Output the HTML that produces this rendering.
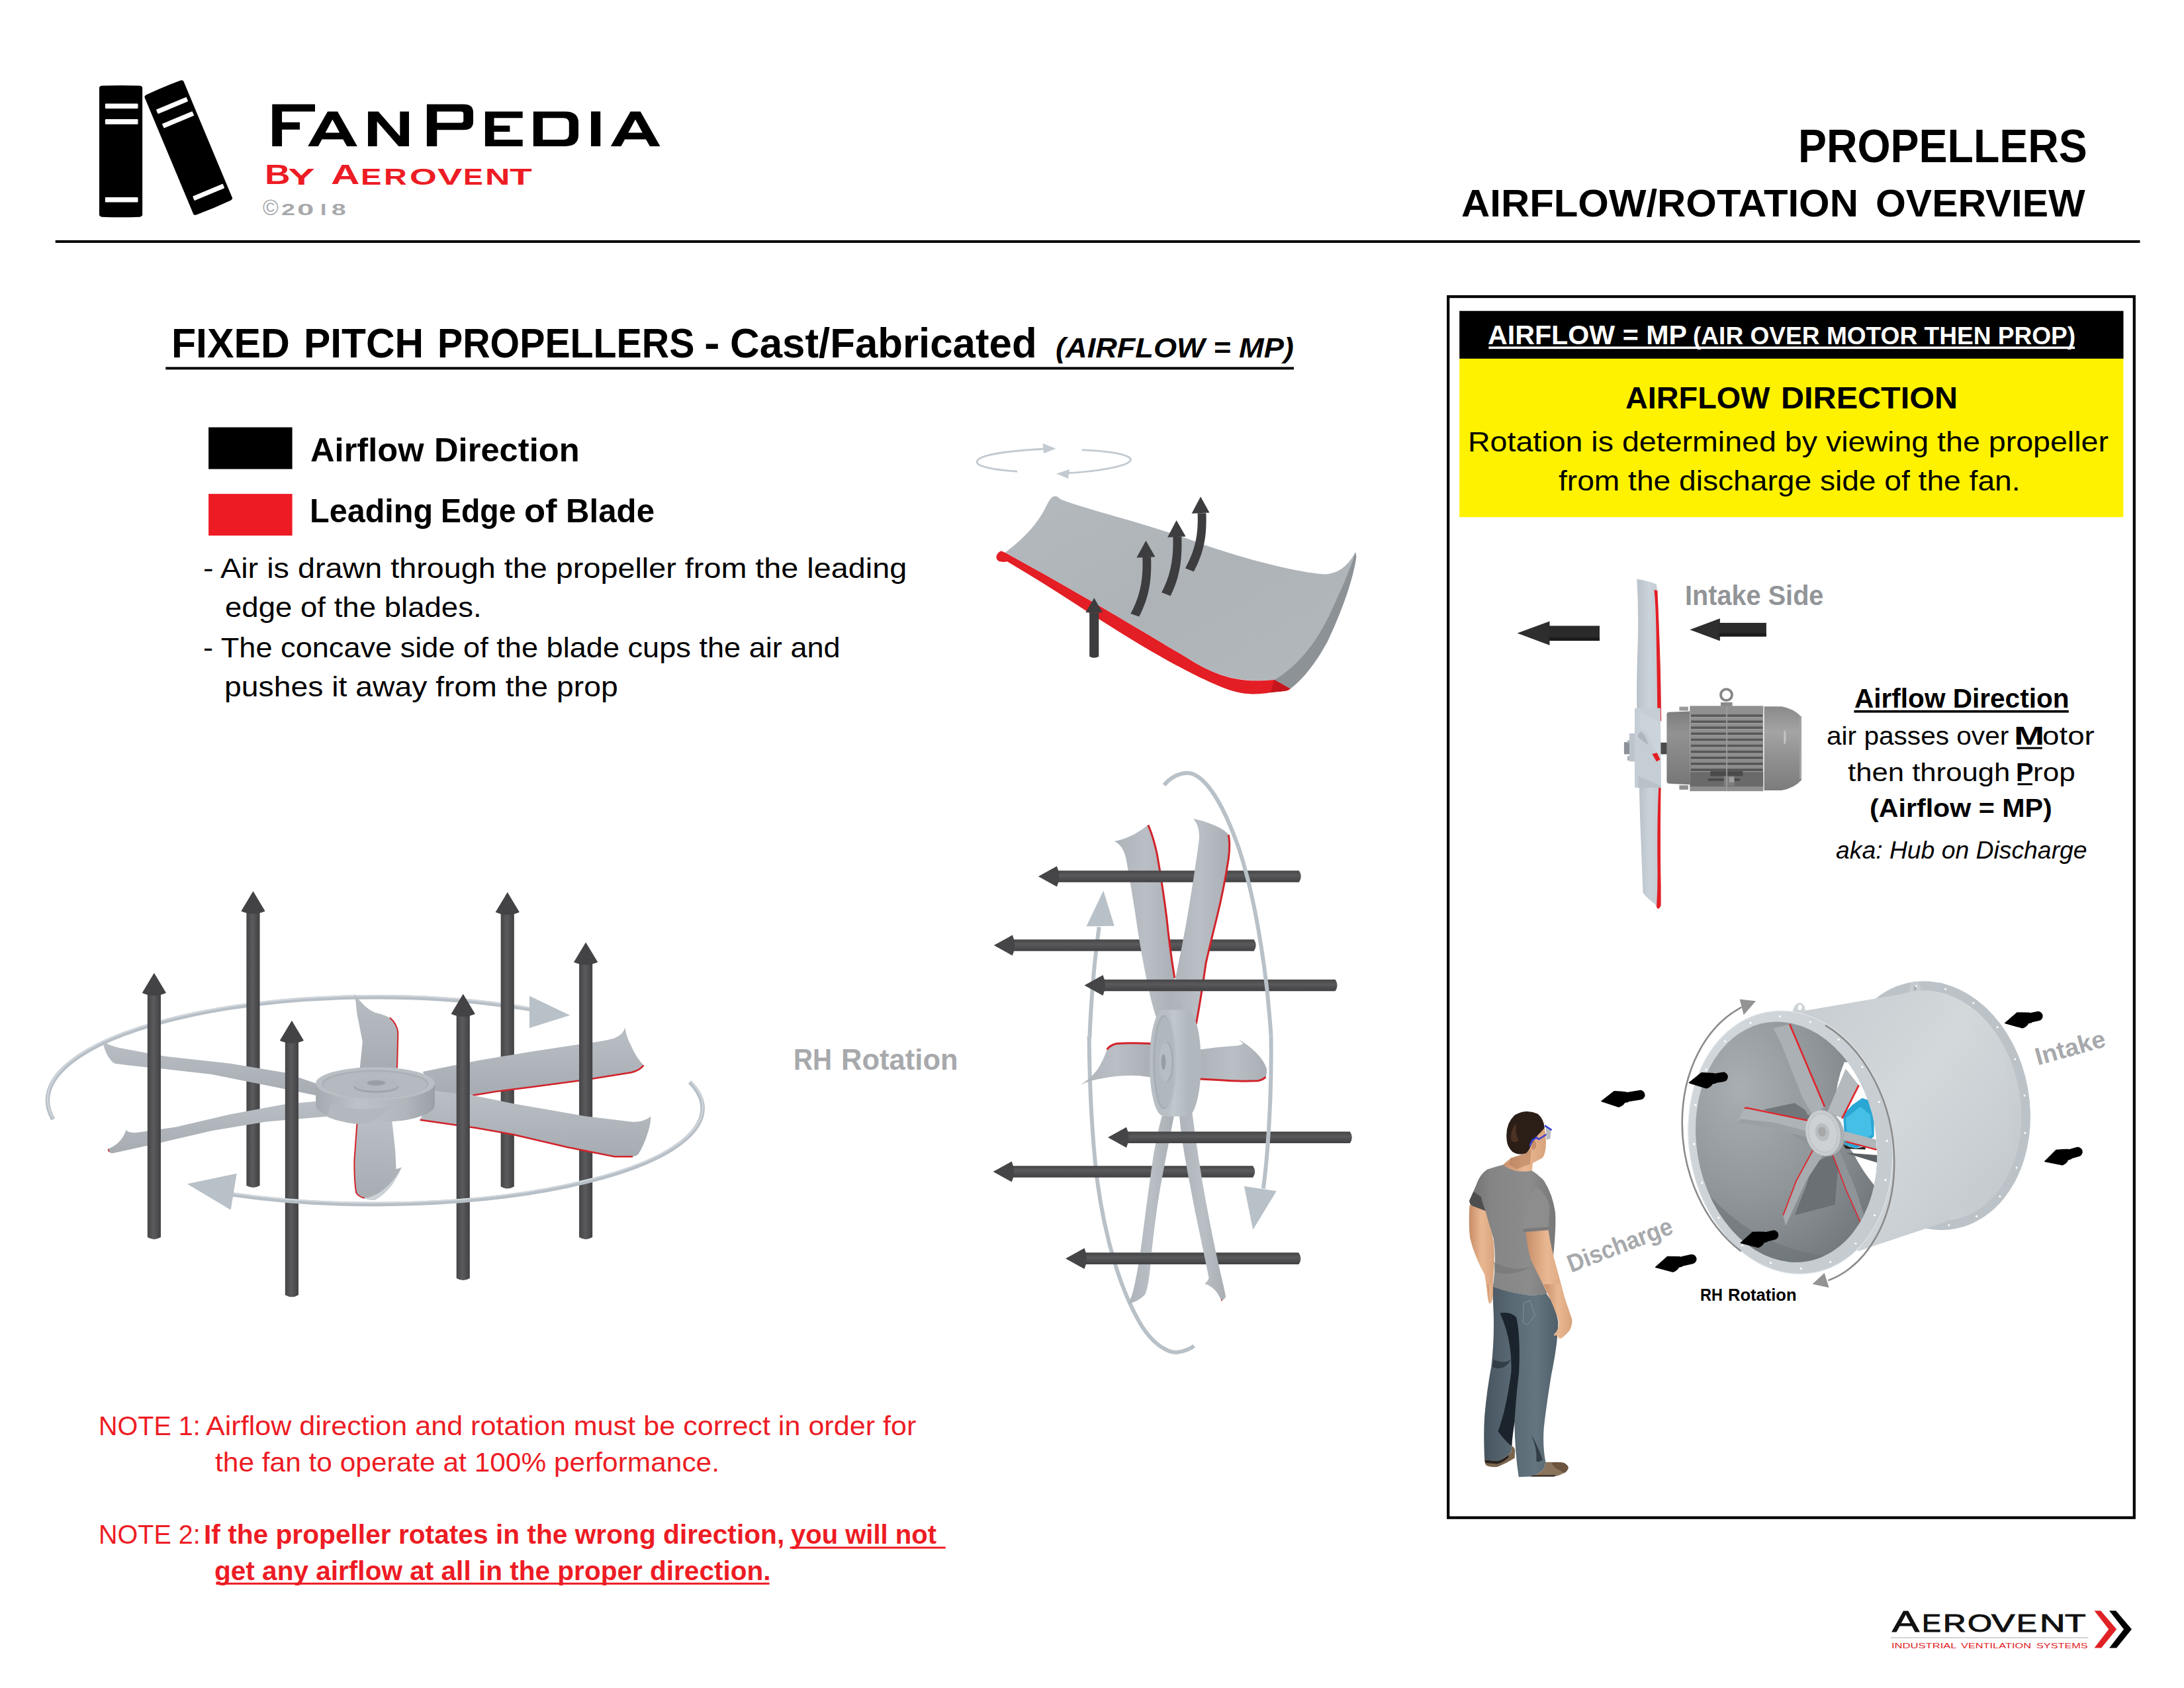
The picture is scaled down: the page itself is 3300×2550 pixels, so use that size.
<!DOCTYPE html>
<html><head><meta charset="utf-8"><title>FanPedia - Propellers Airflow/Rotation Overview</title>
<style>
html,body{margin:0;padding:0;background:#fff}
body{width:3300px;height:2550px;position:relative;overflow:hidden;font-family:"Liberation Sans",sans-serif}
.t{position:absolute;white-space:pre;line-height:1}
svg.art{position:absolute;left:0;top:0}
</style></head><body>
<svg class="art" width="3300" height="2550" viewBox="0 0 3300 2550">
<!-- header rule -->
<rect x="83.7" y="362.9" width="3149.8" height="4" fill="#000"/>
<!-- heading underline -->
<rect x="250.3" y="554.4" width="1704.7" height="3.9" fill="#000"/>
<!-- legend -->
<rect x="315.1" y="645.5" width="126.5" height="63.1" fill="#000"/>
<rect x="315.1" y="746.1" width="126.5" height="63" fill="#ed1c24"/>
<!-- panel -->
<rect x="2188.2" y="448.1" width="1036.6" height="1844.6" fill="none" stroke="#000" stroke-width="4.2"/>
<rect x="2205.2" y="469.7" width="1003.3" height="72.2" fill="#000"/>
<rect x="2205.2" y="541.9" width="1003.2" height="239.3" fill="#fff200"/>
<rect x="2249.4" y="523.5" width="885.7" height="3.6" fill="#fff"/>
<!-- underlines -->
<rect x="2801.4" y="1072.9" width="324.4" height="3.7" fill="#000"/>
<rect x="3047.4" y="1128.6" width="38.3" height="3" fill="#000"/>
<rect x="3048.6" y="1183.2" width="22.3" height="3" fill="#000"/>
<rect x="1193.6" y="2336.5" width="235.1" height="3" fill="#ed1c24"/>
<rect x="326.3" y="2390.8" width="836.3" height="3" fill="#ed1c24"/>

<!-- books logo -->
<g transform="translate(130,100) scale(0.14810)">
  <path d="M135,222 Q135,205 160,200 Q355,192 550,200 Q575,205 575,222 V1515 Q575,1532 550,1537 Q355,1545 160,1537 Q135,1532 135,1515 Z" fill="#000"/>
  <rect x="195" y="382" width="335" height="50" rx="7" fill="#fff"/>
  <rect x="195" y="541" width="335" height="51" rx="7" fill="#fff"/>
  <rect x="195" y="1337" width="335" height="51" rx="7" fill="#fff"/>
  <g transform="translate(590,300) rotate(-22.7)">
    <path d="M0,22 Q0,5 25,2 Q215,-6 405,2 Q430,5 430,22 V1308 Q430,1325 405,1328 Q215,1336 25,1328 Q0,1325 0,1308 Z" fill="#000"/>
    <rect x="60" y="180" width="334" height="48" rx="7" fill="#fff"/>
    <rect x="60" y="338" width="334" height="48" rx="7" fill="#fff"/>
    <rect x="62" y="1140" width="334" height="48" rx="7" fill="#fff"/>
  </g>
</g>
<!-- FANPEDIA wordmark -->
<g transform="translate(390,140) scale(0.28388)" fill="#000" fill-rule="evenodd">
  <path d="M75,62 H303 V100 H127 V158 H222 V196 H127 V285 H75 Z"/>
  <path d="M265,285 L370,100 H423 L528,285 H473 L452,248 H340 L320,285 Z M358,213 H434 L396,143 Z"/>
  <path d="M585,285 V100 H640 L755,232 V100 H803 V285 H748 L633,153 V285 Z"/>
  <path d="M898,62 H1095 Q1145,62 1145,105 V155 Q1145,198 1095,198 H952 V285 H898 Z M952,100 V160 H1080 Q1093,160 1093,148 V112 Q1093,100 1080,100 Z"/>
  <path d="M1208,100 H1408 V135 H1256 V175 H1340 V208 H1256 V250 H1408 V285 H1208 Z"/>
  <path d="M1465,100 H1635 Q1705,100 1705,160 V225 Q1705,285 1635,285 H1465 Z M1515,135 V250 H1625 Q1655,250 1655,222 V163 Q1655,135 1625,135 Z"/>
  <path d="M1772,100 H1822 V285 H1772 Z"/>
  <path transform="translate(1612,0)" d="M265,285 L370,100 H423 L528,285 H473 L452,248 H340 L320,285 Z M358,213 H434 L396,143 Z"/>
</g>

<!-- single blade illustration -->
<defs>
  <linearGradient id="bladeG" x1="0" y1="0" x2="1" y2="1">
    <stop offset="0" stop-color="#b4b9be"/><stop offset="0.5" stop-color="#aeb3b8"/><stop offset="1" stop-color="#b3b8bd"/>
  </linearGradient>
</defs>
<g transform="translate(1400,620) scale(0.32051)">
  <!-- rotation arrows -->
  <g fill="none" stroke="#c3cad1" stroke-width="9">
    <path d="M428,288 C300,278 232,262 238,240 C246,210 390,190 560,181"/>
    <path d="M732,186 C880,192 968,212 962,234 C952,264 800,288 660,296"/>
  </g>
  <polygon points="548,155 610,180 552,203" fill="#c3cad1"/>
  <polygon points="674,278 612,298 668,322" fill="#c3cad1"/>
  <!-- blade body -->
  <path d="M600,405 Q615,400 630,418 C760,470 1000,520 1300,630 C1500,700 1750,765 1880,772 C1950,770 1995,720 2022,668 L2026,690 C2010,800 1960,940 1890,1090 C1830,1200 1770,1270 1715,1312 L1640,1270 C1500,1280 1400,1270 1250,1180 C1000,1030 700,850 370,670 C450,610 520,540 560,460 C575,430 585,410 600,405 Z" fill="url(#bladeG)"/>
  <!-- thick trailing side (darker) -->
  <path d="M2022,668 L2026,690 C2010,800 1960,940 1890,1090 C1830,1200 1770,1270 1715,1312 L1640,1270 C1760,1200 1850,1080 1920,920 C1970,810 2000,740 2022,668 Z" fill="#8d9297"/>
  <!-- red leading edge -->
  <path d="M352,662 C338,668 326,682 330,698 C336,716 360,716 380,712 C600,840 800,980 1000,1100 C1150,1190 1300,1270 1420,1315 C1500,1342 1560,1340 1620,1330 C1660,1322 1700,1328 1715,1312 L1640,1270 C1500,1282 1400,1270 1250,1180 C1000,1030 700,850 370,670 Z" fill="#e31e24"/>
  <path d="M1640,1270 L1715,1312 C1700,1326 1660,1324 1622,1330 Z" fill="#c4161c"/>
  <!-- airflow arrows -->
  <g fill="#3d3d3f">
    <path d="M768,952 H812 V1160 Q790,1172 768,1160 Z"/>
    <polygon points="790,884 830,952 750,952"/>
    <path d="M962,958 C1010,870 1022,790 1018,690 L1058,690 C1062,800 1050,880 1002,972 Z"/>
    <polygon points="1034,614 1078,690 990,694"/>
    <path d="M1108,858 C1150,780 1165,700 1162,596 L1202,596 C1206,710 1192,790 1150,874 Z"/>
    <polygon points="1178,518 1222,594 1136,598"/>
    <path d="M1220,744 C1265,660 1282,590 1278,484 L1318,484 C1322,600 1306,670 1260,760 Z"/>
    <polygon points="1292,406 1334,482 1250,486"/>
  </g>
</g>

<!-- left fan (plan view with vertical airflow arrows) -->
<defs>
  <linearGradient id="shaftG" x1="0" x2="1" y1="0" y2="0"><stop offset="0" stop-color="#454547"/><stop offset="0.45" stop-color="#5b5b5d"/><stop offset="1" stop-color="#414143"/></linearGradient>
  <linearGradient id="bl1" x1="0" x2="0" y1="0" y2="1"><stop offset="0" stop-color="#b9bfc4"/><stop offset="1" stop-color="#a6acb2"/></linearGradient>
  <linearGradient id="hubSide" x1="0" x2="1" y1="0" y2="0"><stop offset="0" stop-color="#a4aab0"/><stop offset="0.35" stop-color="#bcc2c7"/><stop offset="0.75" stop-color="#b0b6bb"/><stop offset="1" stop-color="#9aa0a6"/></linearGradient>
</defs>
<g transform="translate(40,1300) scale(0.50365)">
<path d="M80,776 A984,310 0 0 1 1512,446" fill="none" stroke="#b7bfc7" stroke-width="13"/>
<path d="M80,772 A984,310 0 0 1 1512,442" fill="none" stroke="#d3d9de" stroke-width="4"/>
<polygon points="1509,405.8 1630.6,464.2 1509,502.3" fill="#b9c1c8"/>
<g><path d="M660,154 V975 Q680,987 700,975 V154 Z" fill="url(#shaftG)"/><path d="M680,92 L716,152 Q680,168 644,152 Z" fill="#434345"/></g>
<g><path d="M1423,157 V978 Q1443,990 1463,978 V157 Z" fill="url(#shaftG)"/><path d="M1443,95 L1479,155 Q1443,171 1407,155 Z" fill="#434345"/></g>
<path d="M1188.8,633.3 L1349.7,600.5 L1513.3,573.3 L1677,548.7 Q1740,540 1764.2,532.4 Q1790,522 1795.9,500.7 Q1800,530 1813.3,554.2 Q1828,590 1851.5,614.2 Q1840,630 1813.3,636 L1677,657.8 L1513.3,679.6 L1404.2,693.3 L1338.8,704.2 L1224.2,700 Z" fill="url(#bl1)"/>
<path d="M1851.5,614.2 Q1840,630 1813.3,636 L1677,657.8 L1513.3,679.6 L1404.2,693.3 L1338.8,704.2" fill="none" stroke="#d2232a" stroke-width="5"/>
<g><path d="M1658,307 V1130 Q1678,1142 1698,1130 V307 Z" fill="url(#shaftG)"/><path d="M1678,245 L1714,305 Q1678,321 1642,305 Z" fill="#434345"/></g>
<path d="M228.2,540.5 Q245,556 300,566 L413.7,586.9 L610,608.7 L773.7,636 L869.1,668.7 L875,706 L773.7,685.1 L664.6,663.3 L555.5,641.4 L413.7,625 Q330,618 263.7,608.7 Q238,590 228.2,540.5 Z" fill="url(#bl1)"/>
<path d="M299.1,807.8 Q305,818 330,816 L446.4,799.6 L610,761.4 L773.7,731.4 L915.5,717.8 L900,768 L719.1,783.3 L555.5,810.5 L391.9,848.7 L255.5,878.7 Q246,874 244.6,865.1 Q285,850 299.1,807.8 Z" fill="url(#bl1)"/>
<path d="M244.6,865.1 L248,874" stroke="#d2232a" stroke-width="3" fill="none"/>
<path d="M1000,625 L1008.2,543.3 Q1000,500 991.9,461.4 L986.4,412.3 Q985,400 972.8,385.1 Q985,405 1002.8,423.3 Q1025,448 1046.4,456 Q1075,462 1095.5,475.1 Q1112,490 1114.6,516 L1111.9,625 Z" fill="url(#bl1)"/>
<path d="M1090,471 Q1112,490 1114.6,516 L1112,622" fill="none" stroke="#d2232a" stroke-width="4"/>
<path d="M1224.2,690.5 L1338.8,704.2 L1458.8,728.7 L1677,766.9 L1813.3,783.3 Q1850,786 1873.3,768 Q1872,795 1862.4,821.4 Q1852,855 1835.1,881.4 Q1828,887 1818.8,888 L1764.2,888 L1622.4,859.6 L1458.8,821.4 L1349.7,802.3 L1180.6,777.8 Z" fill="url(#bl1)"/>
<path d="M1818.8,888 L1764.2,888 L1622.4,859.6 L1458.8,821.4 L1349.7,802.3 L1180.6,777.8" fill="none" stroke="#d2232a" stroke-width="5"/>
<path d="M991.9,780 L983.7,897.8 Q983,960 989.1,996 Q995,1008 1013.7,1012.4 Q1030,1020 1046.4,1017.8 Q1075,1000 1095.5,974.2 Q1115,945 1125.5,919.6 Q1118,924 1109.1,925.1 L1106.4,870.5 L1095.5,770 Z" fill="url(#bl1)"/>
<path d="M991.9,785 L983.7,897.8 Q983,960 989.1,996 Q995,1008 1013.7,1012.4" fill="none" stroke="#d2232a" stroke-width="4"/>
<path d="M1013.7,1012.4 Q1030,1020 1046.4,1017.8 Q1075,1000 1095.5,974.2 Q1115,945 1125.5,919.6 Q1100,968 1060,995 Q1040,1008 1013.7,1012.4 Z" fill="#ccd2d7"/>
<path d="M868,668 V735 A178.6,52 0 0 0 1225,735 V668 Z" fill="url(#hubSide)"/>
<ellipse cx="1046.4" cy="668.7" rx="178.6" ry="49" fill="#b9bfc4"/>
<ellipse cx="1046.4" cy="670" rx="160" ry="42" fill="#aab0b6"/>
<ellipse cx="1046.4" cy="673" rx="155" ry="39" fill="#b4babf"/>
<ellipse cx="1049" cy="678" rx="68" ry="19" fill="#9fa5ab"/>
<ellipse cx="1049" cy="672" rx="68" ry="19" fill="#b2b8bd"/>
<ellipse cx="1049" cy="667" rx="27" ry="8" fill="#999fa5"/>
<path d="M915,725 Q990,760 1090,735 Q1060,790 990,790 Q940,785 900,768 Z" fill="#b2b8bd"/>
<g><path d="M363,399 V1130 Q383,1142 403,1130 V399 Z" fill="url(#shaftG)"/><path d="M383,337 L419,397 Q383,413 347,397 Z" fill="#434345"/></g>
<g><path d="M776,542 V1303 Q796,1315 816,1303 V542 Z" fill="url(#shaftG)"/><path d="M796,480 L832,540 Q796,556 760,540 Z" fill="#434345"/></g>
<g><path d="M1290,462 V1253 Q1310,1265 1330,1253 V462 Z" fill="url(#shaftG)"/><path d="M1310,400 L1346,460 Q1310,476 1274,460 Z" fill="#434345"/></g>
<path d="M1990,664 A980,287 0 0 1 615,1001" fill="none" stroke="#b7bfc7" stroke-width="13"/>
<path d="M1993,662 A983,287 0 0 1 615,997" fill="none" stroke="#d3d9de" stroke-width="4"/>
<polygon points="481.9,969.8 630.8,938.7 612.8,1047.8" fill="#b9c1c8"/>
</g>
<!-- middle fan (side view, horizontal airflow arrows) -->
<defs>
  <linearGradient id="hshaftG" x1="0" x2="0" y1="0" y2="1"><stop offset="0" stop-color="#444446"/><stop offset="0.4" stop-color="#5a5a5c"/><stop offset="1" stop-color="#414143"/></linearGradient>
  <linearGradient id="bl2" x1="0" x2="1" y1="0" y2="0"><stop offset="0" stop-color="#adb3b9"/><stop offset="0.5" stop-color="#b9bfc5"/><stop offset="1" stop-color="#a9afb5"/></linearGradient>
  <linearGradient id="hub2" x1="0" x2="1" y1="0" y2="0"><stop offset="0" stop-color="#b3bac0"/><stop offset="0.45" stop-color="#c0c7cd"/><stop offset="1" stop-color="#b2b9bf"/></linearGradient>
</defs>
<path d="M 1660.7,1400.3 C 1654.2,1446.2 1648.9,1505.5 1646.5,1564.7 C 1645.6,1564.7 1645.6,1564.7 1645.6,1564.7" fill="none" stroke="#b9c1c8" stroke-width="6"/>
<path d="M 1645.6,1564.7 C 1646.2,1634.1 1648.9,1708.1 1657.7,1782.2 C 1669.6,1871.0 1693.3,1951.0 1725.9,2004.3 C 1743.6,2031.0 1764.4,2044.3 1779.2,2042.8 C 1791.0,2041.3 1798.4,2037.5 1804.4,2033.3" fill="none" stroke="#b9c1c8" stroke-width="6"/>
<path d="M 1667.2,1345.5 L 1683.8,1398.8 L 1641.5,1399.4 Z" fill="#b9c1c8"/>
<path d="M1530.8,1419.3 H1894.7 Q1900.7,1428.1 1894.7,1436.8 H1530.8 Z" fill="url(#hshaftG)"/><path d="M1501.8,1428.1 L1529.8,1412.6 Q1536.8,1428.1 1529.8,1443.6 Z" fill="#454547"/>
<path d="M1529.6,1761.2 H1893.2 Q1899.2,1770.0 1893.2,1778.8 H1529.6 Z" fill="url(#hshaftG)"/><path d="M1500.6,1770.0 L1528.6,1754.5 Q1535.6,1770.0 1528.6,1785.5 Z" fill="#454547"/>
<path d="M 1683.8,1270.9 Q 1699.2,1267.9 1714.0,1260.2 Q 1727.4,1252.2 1734.8,1246.3 Q 1742.2,1262.6 1748.1,1289.2 Q 1757.0,1339.6 1762.9,1387.0 Q 1767.3,1431.4 1774.8,1477.3 L 1777.7,1532.1 L 1749.6,1544.0 Q 1740.7,1520.3 1734.8,1490.6 Q 1724.4,1443.2 1715.5,1381.0 Q 1708.1,1333.6 1701.6,1298.1 Q 1697.7,1277.4 1683.8,1270.9 Z" fill="url(#bl2)"/>
<path d="M 1734.8,1246.3 Q 1742.2,1262.6 1748.1,1289.2 Q 1757.0,1339.6 1762.9,1387.0 Q 1767.3,1431.4 1774.8,1477.3" fill="none" stroke="#d2232a" stroke-width="3"/>
<path d="M1597.9,1315.2 H1962.8 Q1968.8,1324.0 1962.8,1332.8 H1597.9 Z" fill="url(#hshaftG)"/><path d="M1568.9,1324.0 L1596.9,1308.5 Q1603.9,1324.0 1596.9,1339.5 Z" fill="#454547"/>
<path d="M1639.4,1892.5 H1962.2 Q1968.2,1901.2 1962.2,1910.0 H1639.4 Z" fill="url(#hshaftG)"/><path d="M1610.4,1901.2 L1638.4,1885.7 Q1645.4,1901.2 1638.4,1916.7 Z" fill="#454547"/>
<path d="M 1755.5,1685.9 Q 1748.1,1714.0 1742.2,1749.6 Q 1733.3,1811.8 1725.9,1871.0 Q 1720.0,1915.5 1714.0,1942.1 Q 1710.5,1959.9 1704.5,1969.4 Q 1720.0,1966.4 1730.3,1955.4 Q 1736.2,1942.1 1739.2,1900.6 Q 1746.6,1826.6 1757.0,1773.3 Q 1765.9,1725.9 1773.9,1685.9 Z" fill="url(#bl2)"/>
<path d="M1639.4,1892.5 H1962.2 Q1968.2,1901.2 1962.2,1910.0 H1639.4 Z" fill="url(#hshaftG)"/><path d="M1610.4,1901.2 L1638.4,1885.7 Q1645.4,1901.2 1638.4,1916.7 Z" fill="#454547"/>
<path d="M 1802.9,1236.5 Q 1828.1,1242.4 1844.4,1251.3 Q 1853.2,1256.6 1856.2,1261.1 Q 1859.2,1274.4 1856.2,1298.1 Q 1848.8,1345.5 1838.4,1387.0 Q 1828.1,1428.4 1822.1,1455.1 Q 1816.2,1499.5 1807.3,1546.9 L 1768.8,1515.8 Q 1773.9,1487.7 1779.8,1459.5 Q 1792.5,1398.8 1801.4,1339.6 Q 1808.8,1292.2 1811.8,1268.5 Q 1813.3,1247.7 1802.9,1236.5 Z" fill="url(#bl2)"/>
<path d="M 1856.2,1261.1 Q 1859.2,1274.4 1856.2,1298.1 Q 1848.8,1345.5 1838.4,1387.0 Q 1828.1,1428.4 1822.1,1455.1 Q 1816.2,1499.5 1807.3,1546.9" fill="none" stroke="#d2232a" stroke-width="3"/>
<path d="M 1780.7,1671.1 Q 1783.6,1708.1 1789.6,1743.6 Q 1801.4,1811.8 1816.2,1879.9 Q 1823.6,1915.5 1826.6,1930.3 Q 1825.1,1936.2 1820.1,1939.1 Q 1832.5,1943.6 1839.9,1954.0 Q 1843.8,1961.4 1845.8,1964.6 Q 1850.9,1962.8 1852.1,1958.4 Q 1848.8,1942.1 1838.4,1897.7 Q 1826.6,1841.4 1817.7,1791.0 Q 1808.8,1737.7 1800.5,1674.0 Z" fill="url(#bl2)"/>
<path d="M 1845.0,1963.4 L 1846.7,1964.9" fill="none" stroke="#d2232a" stroke-width="1.5"/>
<path d="M 1739.2,1576.5 Q 1708.1,1575.1 1687.4,1576.5 Q 1677.0,1578.9 1672.6,1585.4 Q 1666.6,1603.2 1657.7,1616.5 Q 1647.4,1629.9 1632.6,1638.7 Q 1648.9,1631.3 1666.6,1629.0 Q 1693.3,1623.9 1720.0,1625.1 L 1740.7,1627.5 Z" fill="url(#bl2)"/>
<path d="M 1739.2,1576.5 Q 1708.1,1575.1 1687.4,1576.5 Q 1677.0,1578.9 1672.6,1585.4" fill="none" stroke="#d2232a" stroke-width="3"/>
<path d="M 1813.3,1585.4 Q 1841.4,1581.3 1871.0,1579.5 Q 1876.4,1578.3 1878.4,1576.5 L 1871.0,1570.0 Q 1885.8,1578.0 1897.7,1589.9 Q 1911.0,1603.2 1914.0,1615.0 Q 1914.3,1622.5 1912.5,1626.9 Q 1908.0,1631.3 1900.6,1632.8 Q 1871.0,1634.0 1841.4,1631.6 L 1811.8,1629.9 Z" fill="url(#bl2)"/>
<path d="M 1912.5,1626.9 Q 1908.0,1631.3 1900.6,1632.8 Q 1871.0,1634.0 1841.4,1631.6 L 1812.4,1629.9" fill="none" stroke="#d2232a" stroke-width="3"/>
<rect x="1771" y="1516" width="14" height="16" fill="#adb4ba"/>
<ellipse cx="1794" cy="1606" rx="20.8" ry="80.5" fill="#b0b7bd"/>
<rect x="1757.3" y="1525.5" width="36.7" height="161" fill="url(#hub2)"/>
<ellipse cx="1757.3" cy="1605.6" rx="20.4" ry="80" fill="#b7bec4"/>
<ellipse cx="1758.2" cy="1604.6" rx="16" ry="71" fill="#a6adb3"/>
<ellipse cx="1759.6" cy="1604.6" rx="14.6" ry="68" fill="#b0b7bd"/>
<ellipse cx="1763" cy="1604.3" rx="9.8" ry="30.5" fill="#a3aab0"/>
<ellipse cx="1761" cy="1604.3" rx="9.6" ry="30" fill="#b6bdc3"/>
<ellipse cx="1758" cy="1604.3" rx="3.4" ry="11.8" fill="#979ea4"/>
<path d="M1667.5,1479.7 H2017.6 Q2023.6,1488.4 2017.6,1497.2 H1667.5 Z" fill="url(#hshaftG)"/><path d="M1638.5,1488.4 L1666.5,1472.9 Q1673.5,1488.4 1666.5,1503.9 Z" fill="#454547"/>
<path d="M1703.0,1709.5 H2039.8 Q2045.8,1718.2 2039.8,1727.0 H1703.0 Z" fill="url(#hshaftG)"/><path d="M1674.0,1718.2 L1702.0,1702.7 Q1709.0,1718.2 1702.0,1733.7 Z" fill="#454547"/>
<path d="M 1759.1,1186.1 C 1767.3,1175.2 1785.1,1164.8 1799.9,1168.4 C 1826.6,1176.7 1851.8,1224.1 1872.5,1283.3 C 1891.8,1342.5 1905.1,1416.6 1914.0,1490.6 C 1917.5,1526.2 1919.6,1546.9 1920.5,1564.7" fill="none" stroke="#b9c1c8" stroke-width="6"/>
<path d="M 1920.5,1564.7 C 1921.4,1619.2 1919.0,1684.4 1914.9,1737.7 C 1913.1,1761.4 1911.0,1779.2 1908.9,1795.5" fill="none" stroke="#b9c1c8" stroke-width="6"/>
<path d="M 1879.9,1791.9 L 1928.8,1799.3 L 1893.2,1857.7 Z" fill="#b9c1c8"/>
<!-- motor + propeller side view -->
<defs>
  <linearGradient id="mBody" x1="0" x2="0" y1="0" y2="1"><stop offset="0" stop-color="#8f8f8f"/><stop offset="0.12" stop-color="#9a9a9a"/><stop offset="0.5" stop-color="#868686"/><stop offset="0.85" stop-color="#6e6e6e"/><stop offset="1" stop-color="#8a8a8a"/></linearGradient>
  <linearGradient id="mCover" x1="0" x2="0" y1="0" y2="1"><stop offset="0" stop-color="#8a8a8a"/><stop offset="0.3" stop-color="#a4a4a4"/><stop offset="0.55" stop-color="#949494"/><stop offset="1" stop-color="#7c7c7c"/></linearGradient>
  <linearGradient id="mBell" x1="0" x2="0" y1="0" y2="1"><stop offset="0" stop-color="#7e7e7e"/><stop offset="0.3" stop-color="#929292"/><stop offset="1" stop-color="#777"/></linearGradient>
  <linearGradient id="pBlade" x1="0" x2="1" y1="0" y2="0"><stop offset="0" stop-color="#b9c1c9"/><stop offset="0.5" stop-color="#cbd3da"/><stop offset="1" stop-color="#c2cad2"/></linearGradient>
  <pattern id="fins" x="0" y="0" width="10" height="9.1" patternUnits="userSpaceOnUse"><rect width="10" height="9.1" fill="#8e8e8e"/><rect y="5.6" width="10" height="3.5" fill="#4d4d4d"/><rect y="0" width="10" height="1.2" fill="#a2a2a2"/></pattern>
</defs>
<polygon points="2292.6,956.6 2341.5,938.5 2341.5,974.7" fill="#2e2e2f"/>
<rect x="2340.5" y="945.4" width="76.5" height="22.5" fill="#2a2a2b"/>
<rect x="2340.5" y="962.9" width="76.5" height="5.0" fill="#1c1c1d"/>
<polygon points="2553.3,951.2 2598.9,934.2 2598.9,968.2" fill="#2e2e2f"/>
<rect x="2597.9" y="940.9" width="71.0" height="20.6" fill="#2a2a2b"/>
<rect x="2597.9" y="956.5" width="71.0" height="5.0" fill="#1c1c1d"/>
<rect x="2508.9" y="1121.8" width="10.3" height="17.6" fill="#4b4b4b" rx="0.0"/>
<rect x="2453.9" y="1121.1" width="8.4" height="18.3" fill="#8b9197" rx="0.0"/>
<rect x="2458.8" y="1118.5" width="4.7" height="4.1" fill="#aab1b8" rx="0.0"/>
<rect x="2458.8" y="1142.3" width="4.7" height="6.6" fill="#aab1b8" rx="0.0"/>
<rect x="2462.0" y="1107.9" width="8.8" height="42.5" fill="#bcc4cc" rx="0.0"/>
<path d="M 2473.4,875.1 Q 2488.1,876.7 2502.8,882.6 L 2504.4,892.4 Q 2507.0,947.8 2508.9,1012.9 L 2510.2,1071.6 L 2473.4,1071.6 Q 2472.4,1045.5 2474.4,980.3 Q 2476.4,931.5 2473.4,875.1 Z" fill="url(#pBlade)"/>
<path d="M 2499.5,890.7 L 2504.4,892.4 Q 2507.0,947.8 2508.9,1012.9 L 2510.2,1089.5 L 2504.4,1086.2 Q 2503.7,1012.9 2502.4,947.8 Q 2501.8,915.2 2499.5,890.7 Z" fill="#e31e24"/>
<path d="M 2476.7,1185.6 L 2509.3,1185.6 Q 2508.0,1273.6 2509.3,1338.8 L 2509.3,1368.1 Q 2508.3,1372.0 2505.0,1373.3 Q 2501.8,1368.1 2500.5,1365.8 Q 2488.1,1356.7 2482.5,1348.5 Q 2480.9,1306.2 2478.3,1241.0 Z" fill="url(#pBlade)"/>
<path d="M 2506.3,1187.2 L 2509.6,1187.2 Q 2508.3,1273.6 2509.6,1338.8 L 2509.6,1368.1 Q 2508.3,1372.0 2505.0,1373.3 L 2503.1,1370.0 Q 2505.0,1338.8 2504.4,1306.2 Q 2503.7,1241.0 2506.3,1187.2 Z" fill="#e31e24"/>
<path d="M 2471.5,1069.8 L 2508.9,1069.8 L 2510.0,1190.0 L 2471.5,1190.0 Q 2470.0,1190.0 2470.0,1188.5 L 2470.0,1071.3 Q 2470.0,1069.8 2471.5,1069.8 Z" fill="#c5cdd5"/>
<path d="M 2477.4,1099.1 Q 2488.4,1105.0 2495.7,1122.6 Q 2498.6,1134.3 2504.5,1137.2 L 2508.9,1148.9 L 2508.9,1090.3 L 2504.5,1088.9 Q 2491.3,1081.5 2477.4,1075.7 Z" fill="#ccd4db"/>
<path d="M 2474.0,1112.3 Q 2478.4,1102.1 2482.5,1107.9 Q 2488.4,1115.2 2490.5,1125.5 Q 2484.0,1121.1 2474.0,1112.3 Z" fill="#aeb6be"/>
<path d="M 2496.4,1139.0 L 2503.7,1137.2 L 2508.6,1147.5 L 2503.0,1150.4 Z" fill="#e31e24"/>
<path d="M 2474.4,1172.4 Q 2491.3,1178.2 2508.9,1187.0 L 2508.9,1190.0 L 2475.2,1190.0 Z" fill="#b9c1c9"/>
<path d="M 2522.1,1075.7 L 2553.6,1074.5 L 2553.6,1185.3 L 2522.1,1183.8 Q 2518.4,1183.4 2518.4,1179.7 L 2518.4,1079.3 Q 2518.4,1076.0 2522.1,1075.7 Z" fill="url(#mBell)"/>
<rect x="2537.4" y="1067.6" width="13.5" height="6.0" fill="#999" rx="0.0"/>
<rect x="2537.4" y="1186.3" width="13.5" height="6.6" fill="#8f8f8f" rx="0.0"/>
<rect x="2536.7" y="1125.8" width="16.4" height="11.4" fill="#8a8a8a" rx="0.0"/>
<rect x="2553.6" y="1066.6" width="110.6" height="128.5" fill="url(#mBody)" rx="0.0"/>
<rect x="2555.0" y="1077.9" width="108.4" height="88.6" fill="url(#fins)" opacity="0.85"/>
<rect x="2553.6" y="1066.6" width="110.6" height="11.3" fill="#909090" rx="0.0"/>
<rect x="2553.6" y="1166.5" width="110.6" height="22.0" fill="#6a6a6a" rx="0.0"/>
<rect x="2584.3" y="1165.1" width="49.1" height="7.3" fill="#4a4a4a" rx="0.0"/>
<rect x="2580.7" y="1176.0" width="48.4" height="3.7" fill="#4a4a4a" rx="0.0"/>
<rect x="2604.8" y="1172.4" width="16.1" height="14.7" fill="#7e7e7e" rx="0.0"/>
<rect x="2612.9" y="1173.8" width="7.0" height="8.1" fill="#a0a0a0" rx="0.0"/>
<rect x="2553.6" y="1188.2" width="110.6" height="6.9" fill="#8f8f8f" rx="0.0"/>
<rect x="2608.2" y="1066.6" width="1.8" height="128.5" fill="#9c9c9c" rx="0.0"/>
<path d="M 2665.6,1067.2 L 2692.0,1067.2 Q 2711.1,1070.5 2722.1,1083.0 L 2722.1,1178.2 Q 2711.1,1190.7 2692.0,1193.9 L 2665.6,1193.9 Z" fill="url(#mCover)"/>
<path d="M 2695.7,1103.5 Q 2698.6,1102.1 2698.6,1113.8 Q 2698.6,1125.5 2695.7,1124.0 Q 2694.7,1113.8 2695.7,1103.5 Z" fill="#c4c4c4"/>
<rect x="2719.1" y="1084.5" width="2.9" height="92.3" fill="#a5a5a5" rx="0.0"/>
<rect x="2600.0" y="1061.0" width="17.6" height="5.9" fill="#8a8a8a" rx="0.0"/>
<circle cx="2608.5" cy="1049.7" r="8.5" fill="none" stroke="#858585" stroke-width="3.8"/>
<!-- duct fan -->
<defs>
  <linearGradient id="dBody" x1="0" y1="0" x2="1" y2="1"><stop offset="0" stop-color="#c6ccd0"/><stop offset="0.45" stop-color="#d3d8db"/><stop offset="1" stop-color="#bfc6cb"/></linearGradient>
  <linearGradient id="dFl" x1="0" y1="0" x2="1" y2="1"><stop offset="0" stop-color="#d3d9dd"/><stop offset="1" stop-color="#c2c9ce"/></linearGradient>
  <radialGradient id="dIn" cx="0.3" cy="0.25" r="0.9"><stop offset="0" stop-color="#a9aeb2"/><stop offset="0.5" stop-color="#90969a"/><stop offset="1" stop-color="#6d7377"/></radialGradient>
  <clipPath id="dOpen"><ellipse cx="2699.3" cy="1725.2" rx="135.6" ry="182.9" transform="rotate(-10 2699.3 1725.2)"/></clipPath>
</defs>
<ellipse cx="2920.1" cy="1670.2" rx="146.4" ry="189.1" transform="rotate(-10 2920.1 1670.2)" fill="#bcc3c8"/>
<path d="M 2883.9,1504.3 L 2886.5,1487.4 Q 2893.0,1478.2 2899.5,1486.1 L 2906.0,1501.7 Z" fill="#c6ccd1"/>
<ellipse cx="2893.8" cy="1492.6" rx="2.3" ry="4.2" transform="rotate(15 2893.8 1492.6)" fill="#aab1b6"/>
<ellipse cx="2920.1" cy="1670.2" rx="132.8" ry="175.2" transform="rotate(-10 2920.1 1670.2)" fill="url(#dBody)"/>
<path d="M 2716.8,1528.6 L 2898.1,1497.4 L 3028.6,1592.3 L 3042.1,1754.9 L 2940.5,1845.7 L 2806.6,1890.5 L 2855.8,1721.1 Z" fill="url(#dBody)"/>
<path d="M 2707.2,1531.1 L 2711.7,1520.0 Q 2719.6,1510.0 2726.6,1520.0 L 2729.1,1534.9 Z" fill="#ccd2d6"/>
<ellipse cx="2719.6" cy="1521.9" rx="3.0" ry="4.2" transform="rotate(10 2719.6 1521.9)" fill="#fff"/>
<ellipse cx="2705.3" cy="1725.8" rx="152.8" ry="199.9" transform="rotate(-10 2705.3 1725.8)" fill="url(#dFl)"/>
<ellipse cx="2705.3" cy="1725.8" rx="152.8" ry="199.9" transform="rotate(-10 2705.3 1725.8)" fill="none" stroke="#dfe4e7" stroke-width="1.2"/>
<ellipse cx="2699.3" cy="1725.2" rx="135.6" ry="182.9" transform="rotate(-10 2699.3 1725.2)" fill="url(#dIn)"/>
<g clip-path="url(#dOpen)">
<path d="M 2786.8,1604.6 Q 2773.9,1634.4 2772.6,1671.7 Q 2776.4,1714.0 2800.0,1741.4 Q 2813.7,1768.8 2833.6,1792.4 L 2853.5,1808.6 L 2863.5,1684.2 L 2826.1,1604.6 Z" fill="#fff"/>
<path d="M 2564.9,1783.7 Q 2639.5,1883.2 2763.9,1898.2 Q 2813.7,1883.2 2838.6,1808.6 L 2788.8,1933.0 L 2614.6,1933.0 Z" fill="#6c7276" opacity="0.55"/>
<path d="M 2664.4,1676.2 L 2711.7,1666.3 L 2739.1,1684.2 L 2731.6,1699.1 L 2699.2,1689.1 Z" fill="#70767a"/>
<path d="M 2711.7,1836.0 L 2772.6,1819.8 L 2778.9,1745.1 L 2761.4,1746.4 L 2739.1,1758.8 L 2729.1,1791.2 Z" fill="#6a7074"/>
<path d="M 2701.7,1709.1 L 2731.6,1729.0 L 2736.6,1719.0 L 2714.2,1709.1 Z" fill="#8f9599"/>
<path d="M 2788.8,1741.4 L 2836.1,1745.1 L 2836.1,1756.3 L 2803.7,1746.4 Z" fill="#5a6064"/>
<path d="M 2785.1,1684.2 L 2798.8,1669.2 L 2813.7,1658.8 L 2826.1,1663.0 L 2831.6,1684.2 L 2831.6,1716.5 L 2818.7,1729.0 L 2803.7,1735.2 L 2787.6,1729.0 Z" fill="#2aa6d4"/>
<path d="M 2788.8,1689.1 L 2811.2,1671.7 L 2826.1,1684.2 L 2828.6,1714.0 L 2808.7,1726.5 L 2791.3,1721.5 Z" fill="#45bfe6"/>
<path d="M 2785.1,1729.0 L 2803.7,1735.2 L 2818.7,1731.4 L 2818.7,1736.4 L 2788.8,1735.2 Z" fill="#222"/>
<path d="M 2679.3,1553.5 L 2704.2,1547.3 L 2757.0,1671.7 L 2739.1,1685.4 L 2722.9,1656.8 L 2689.3,1572.2 Z" fill="#aab0b4"/>
<path d="M 2679.3,1553.5 L 2689.3,1572.2 L 2722.9,1656.8 L 2739.1,1685.4 L 2731.6,1684.2 L 2711.7,1649.3 L 2685.6,1574.7 Z" fill="#989ea2"/>
<path d="M 2704.2,1547.3 L 2757.0,1671.7" fill="none" stroke="#e0252b" stroke-width="2.6"/>
<path d="M 2761.4,1679.2 L 2788.8,1614.5 L 2808.7,1639.4 L 2783.3,1689.6 Z" fill="#b3b9bd"/>
<path d="M 2808.7,1639.4 L 2783.3,1689.6" fill="none" stroke="#e0252b" stroke-width="2.6"/>
<path d="M 2635.8,1674.2 L 2624.6,1696.6 L 2679.3,1704.1 L 2730.3,1717.8 L 2732.1,1692.9 Z" fill="#adb3b7"/>
<path d="M 2624.6,1696.6 L 2679.3,1704.1 L 2730.3,1717.8 L 2731.1,1709.1 L 2679.3,1695.4 L 2629.6,1690.4 Z" fill="#9aa0a4"/>
<path d="M 2635.8,1674.2 Q 2639.5,1673.0 2644.5,1674.7 L 2732.1,1692.9" fill="none" stroke="#e0252b" stroke-width="2.4"/>
<path d="M 2739.1,1737.7 L 2714.2,1783.7 L 2694.3,1836.0 L 2698.0,1852.1 L 2729.1,1783.7 L 2754.5,1745.1 Z" fill="#a6acb0"/>
<path d="M 2739.1,1737.7 L 2714.2,1783.7 L 2694.3,1836.0" fill="none" stroke="#e0252b" stroke-width="1.8"/>
<path d="M 2769.4,1745.1 L 2788.8,1796.1 L 2812.5,1849.6 L 2818.2,1840.9 L 2803.7,1796.1 L 2780.9,1741.4 Z" fill="#8e9498"/>
<path d="M 2769.4,1745.1 L 2788.8,1796.1 L 2812.5,1849.6" fill="none" stroke="#e0252b" stroke-width="1.6"/>
<path d="M 2781.9,1707.8 L 2834.8,1721.5 L 2835.6,1736.9 L 2788.8,1724.5 Z" fill="#b0b6ba"/>
<path d="M 2788.8,1724.5 L 2835.6,1736.9" fill="none" stroke="#e0252b" stroke-width="2.4"/>
</g>
<ellipse cx="2759.0" cy="1712.8" rx="27.4" ry="34.3" transform="rotate(-12 2759.0 1712.8)" fill="#a9afb3"/>
<ellipse cx="2754.5" cy="1711.5" rx="25.9" ry="34.8" transform="rotate(-12 2754.5 1711.5)" fill="#c7cccf"/>
<ellipse cx="2754.5" cy="1711.5" rx="21.9" ry="29.9" transform="rotate(-12 2754.5 1711.5)" fill="#babfc3"/>
<ellipse cx="2754.5" cy="1711.5" rx="20.9" ry="28.9" transform="rotate(-12 2754.5 1711.5)" fill="#cdd1d4"/>
<ellipse cx="2753.5" cy="1710.3" rx="10.5" ry="13.7" transform="rotate(-12 2753.5 1710.3)" fill="#b9bec2"/>
<ellipse cx="2753.0" cy="1709.6" rx="6.0" ry="7.5" transform="rotate(-12 2753.0 1709.6)" fill="#a8a8a8"/>
<circle cx="2851.1" cy="1723.4" r="1.6" fill="#fff"/>
<circle cx="2848.9" cy="1782.4" r="1.6" fill="#fff"/>
<circle cx="2832.6" cy="1835.8" r="1.6" fill="#fff"/>
<circle cx="2803.9" cy="1878.5" r="1.6" fill="#fff"/>
<circle cx="2765.6" cy="1906.3" r="1.6" fill="#fff"/>
<circle cx="2721.3" cy="1916.3" r="1.6" fill="#fff"/>
<circle cx="2675.5" cy="1907.7" r="1.6" fill="#fff"/>
<circle cx="2632.6" cy="1881.3" r="1.6" fill="#fff"/>
<circle cx="2596.8" cy="1839.7" r="1.6" fill="#fff"/>
<circle cx="2571.6" cy="1786.9" r="1.6" fill="#fff"/>
<circle cx="2559.6" cy="1728.2" r="1.6" fill="#fff"/>
<circle cx="2561.8" cy="1669.2" r="1.6" fill="#fff"/>
<circle cx="2578.0" cy="1615.8" r="1.6" fill="#fff"/>
<circle cx="2606.7" cy="1573.1" r="1.6" fill="#fff"/>
<circle cx="2645.1" cy="1545.3" r="1.6" fill="#fff"/>
<circle cx="2689.4" cy="1535.3" r="1.6" fill="#fff"/>
<circle cx="2735.2" cy="1543.9" r="1.6" fill="#fff"/>
<circle cx="2778.1" cy="1570.3" r="1.6" fill="#fff"/>
<circle cx="2813.9" cy="1611.9" r="1.6" fill="#fff"/>
<circle cx="2839.0" cy="1664.7" r="1.6" fill="#fff"/>
<circle cx="3059.0" cy="1655.0" r="1.5" fill="#fff"/>
<circle cx="3059.9" cy="1711.5" r="1.5" fill="#fff"/>
<circle cx="3047.0" cy="1764.0" r="1.5" fill="#fff"/>
<circle cx="3021.8" cy="1807.3" r="1.5" fill="#fff"/>
<circle cx="2986.6" cy="1837.2" r="1.5" fill="#fff"/>
<circle cx="2944.9" cy="1850.7" r="1.5" fill="#fff"/>
<circle cx="2895.4" cy="1489.7" r="1.5" fill="#fff"/>
<circle cx="2939.5" cy="1493.9" r="1.5" fill="#fff"/>
<circle cx="2981.8" cy="1515.2" r="1.5" fill="#fff"/>
<circle cx="3018.0" cy="1551.8" r="1.5" fill="#fff"/>
<circle cx="3044.6" cy="1600.0" r="1.5" fill="#fff"/>
<path d="M2630.6,1890.3 A162,209 -10 0 1 2631.5,1521.6" fill="none" stroke="#8b8b8b" stroke-width="2.6"/>
<polygon points="2628.6,1509.5 2653.1,1512.3 2634.7,1533.2" fill="#939393"/>
<path d="M2758.1,1548.8 A155,208 -10 0 1 2762.3,1934.4" fill="none" stroke="#8b8b8b" stroke-width="2.6"/>
<polygon points="2738.6,1939.7 2756.7,1923 2763.6,1945.2" fill="#939393"/>
<path d="M3029.8,1545.5 L3055.9,1552.8 Q3062.5,1550.3 3064.6,1545.6 L3069.5,1544.5 L3066.5,1530.3 Q3058.2,1529.8 3048.0,1529.9 Z" fill="#000" stroke="#000" stroke-width="1.5" stroke-linejoin="round"/>
<line x1="3060.1" y1="1539.1" x2="3079.4" y2="1535.0" stroke="#000" stroke-width="14.5" stroke-linecap="round"/>
<path d="M3089.8,1754.5 L3116.3,1759.8 Q3122.8,1756.9 3124.5,1752.0 L3129.3,1750.6 L3125.2,1736.6 Q3116.9,1736.7 3106.8,1737.6 Z" fill="#000" stroke="#000" stroke-width="1.5" stroke-linejoin="round"/>
<line x1="3119.6" y1="1745.8" x2="3139.5" y2="1740.0" stroke="#000" stroke-width="14.5" stroke-linecap="round"/>
<path d="M2552.5,1635.7 L2578.3,1643.9 Q2585.0,1641.7 2587.3,1637.0 L2592.2,1636.1 L2589.7,1621.8 Q2581.4,1621.0 2571.2,1620.7 Z" fill="#000" stroke="#000" stroke-width="1.5" stroke-linejoin="round"/>
<line x1="2583.1" y1="1630.3" x2="2603.7" y2="1626.8" stroke="#000" stroke-width="14.5" stroke-linecap="round"/>
<path d="M2630.4,1877.6 L2656.7,1884.2 Q2663.3,1881.6 2665.2,1876.7 L2670.1,1875.6 L2666.7,1861.5 Q2658.4,1861.1 2648.2,1861.5 Z" fill="#000" stroke="#000" stroke-width="1.5" stroke-linejoin="round"/>
<line x1="2660.6" y1="1870.4" x2="2680.0" y2="1865.7" stroke="#000" stroke-width="14.5" stroke-linecap="round"/>
<path d="M2501.7,1914.2 L2527.8,1921.2 Q2534.4,1918.8 2536.5,1914.0 L2541.3,1912.9 L2538.2,1898.7 Q2529.9,1898.3 2519.7,1898.4 Z" fill="#000" stroke="#000" stroke-width="1.5" stroke-linejoin="round"/>
<line x1="2532.0" y1="1907.5" x2="2556.3" y2="1902.2" stroke="#000" stroke-width="14.5" stroke-linecap="round"/>
<path d="M2420.0,1663.5 L2445.7,1672.0 Q2452.4,1669.9 2454.7,1665.3 L2459.7,1664.5 L2457.4,1650.2 Q2449.1,1649.2 2438.9,1648.8 Z" fill="#000" stroke="#000" stroke-width="1.5" stroke-linejoin="round"/>
<line x1="2450.6" y1="1658.6" x2="2478.3" y2="1654.1" stroke="#000" stroke-width="14.5" stroke-linecap="round"/>
<!-- observer figure -->
<defs>
  <linearGradient id="skinG" x1="0" x2="1" y1="0" y2="0"><stop offset="0" stop-color="#c78d68"/><stop offset="0.5" stop-color="#e9b892"/><stop offset="1" stop-color="#d9a37c"/></linearGradient>
  <linearGradient id="shirtG" x1="0" x2="1" y1="0" y2="0"><stop offset="0" stop-color="#6f6f6f"/><stop offset="0.25" stop-color="#858585"/><stop offset="0.7" stop-color="#8c8c8c"/><stop offset="1" stop-color="#787878"/></linearGradient>
  <linearGradient id="jeanG" x1="0" x2="1" y1="0" y2="0"><stop offset="0" stop-color="#46545e"/><stop offset="0.35" stop-color="#586873"/><stop offset="0.7" stop-color="#64757f"/><stop offset="1" stop-color="#505f69"/></linearGradient>
</defs>
<path d="M 2220.5,1820.2 Q 2218.6,1849.6 2221.2,1870.4 Q 2228.4,1898.9 2243.2,1925.4 Q 2246.4,1944.4 2247.8,1959.5 Q 2248.9,1968.1 2250.8,1969.4 Q 2254.0,1963.3 2255.0,1944.4 Q 2259.7,1906.4 2256.9,1876.1 Q 2251.2,1849.6 2245.1,1829.1 Z" fill="url(#skinG)"/>
<path d="M 2283.4,1749.1 Q 2294.8,1746.3 2306.2,1741.5 L 2321.3,1716.9 L 2333.6,1703.2 Q 2336.9,1716.9 2335.7,1732.0 Q 2335.0,1743.4 2330.8,1749.1 Q 2323.2,1753.3 2316.0,1757.1 L 2314.7,1769.0 L 2291.0,1771.8 L 2270.5,1760.1 Z" fill="url(#skinG)"/>
<path d="M 2283.4,1749.1 Q 2294.8,1746.3 2306.2,1741.5 L 2313.7,1735.8 L 2311.8,1758.6 L 2291.0,1766.2 L 2279.6,1758.6 Z" fill="#b67f5c" opacity="0.6"/>
<path d="M 2313.4,1723.5 Q 2321.3,1720.7 2321.3,1730.1 Q 2320.4,1737.7 2314.7,1736.8 Z" fill="#c98e69"/>
<path d="M 2276.8,1723.5 Q 2273.6,1697.9 2289.1,1684.3 Q 2306.2,1674.8 2323.6,1682.7 Q 2332.7,1690.3 2333.8,1704.0 Q 2328.9,1709.7 2321.3,1717.3 L 2313.7,1728.6 Q 2312.2,1736.2 2306.2,1741.9 Q 2294.8,1746.3 2285.3,1740.0 Q 2277.7,1732.4 2276.8,1723.5 Z" fill="#2b1e17"/>
<path d="M 2283.4,1722.6 Q 2281.5,1705.5 2291.0,1697.9 Q 2289.1,1713.1 2294.8,1722.6 Q 2289.1,1728.2 2283.4,1722.6 Z" fill="#5b3a29" opacity="0.7"/>
<path d="M 2311.8,1730.5 L 2315.3,1722.6 L 2321.7,1718.4 L 2325.1,1721.0 L 2336.9,1713.5 L 2341.0,1707.4" fill="none" stroke="#3a40d2" stroke-width="2.6" stroke-linecap="round" stroke-linejoin="round"/>
<path d="M 2335.4,1702.1 L 2343.3,1707.0 L 2342.6,1720.3 L 2336.9,1721.8 Z" fill="#b9bdc2"/>
<path d="M 2335.0,1700.9 L 2343.7,1706.6" fill="none" stroke="#3a40d2" stroke-width="2.6" stroke-linecap="round"/>
<path d="M 2270.5,1759.7 Q 2256.9,1763.3 2247.4,1766.5 Q 2236.0,1773.7 2230.3,1790.8 L 2220.1,1813.9 Q 2221.2,1819.2 2223.1,1821.1 L 2244.7,1829.3 Q 2248.9,1845.8 2256.9,1872.3 Q 2261.6,1906.4 2255.4,1944.4 Q 2285.3,1955.0 2313.7,1956.9 L 2336.9,1955.0 Q 2344.1,1925.4 2347.1,1897.0 Q 2351.7,1849.6 2349.8,1830.6 Q 2346.0,1804.1 2332.7,1783.2 Q 2323.2,1773.4 2314.7,1768.4 Q 2302.4,1770.9 2291.0,1769.0 Q 2279.6,1766.2 2270.5,1759.7 Z" fill="url(#shirtG)"/>
<path d="M 2220.1,1813.9 Q 2221.2,1819.2 2223.1,1821.1 L 2244.7,1829.3 Q 2240.8,1821.1 2237.9,1807.9 Q 2232.2,1804.1 2226.5,1800.3 Z" fill="#4e4e4e"/>
<path d="M 2321.3,1792.7 Q 2336.5,1804.1 2341.2,1821.1 L 2339.5,1858.3 L 2301.6,1861.3 Q 2300.5,1840.1 2306.2,1821.1 Q 2313.7,1804.1 2321.3,1792.7 Z" fill="#8d8d8d"/>
<path d="M 2301.6,1861.3 L 2339.5,1858.3 L 2339.9,1853.4 L 2301.4,1856.2 Z" fill="#7a7a7a"/>
<path d="M 2256.9,1906.4 Q 2285.3,1921.6 2313.7,1914.0 Q 2285.3,1929.2 2258.8,1921.6 Z" fill="#747474" opacity="0.6"/>
<path d="M 2305.4,1861.3 Q 2308.1,1887.5 2313.7,1904.5 Q 2328.9,1934.9 2351.7,1982.3 L 2369.7,1982.3 Q 2359.2,1940.6 2351.7,1914.0 Q 2344.1,1887.5 2339.5,1858.3 Z" fill="url(#skinG)"/>
<path d="M 2255.0,1943.8 Q 2285.3,1954.8 2313.7,1956.9 L 2336.9,1954.8 Q 2349.8,1970.3 2354.5,1996.9 Q 2353.6,2031.0 2344.1,2076.5 Q 2335.5,2129.6 2332.7,2158.0 Q 2330.8,2186.4 2335.5,2209.2 L 2332.7,2219.1 Q 2323.2,2228.2 2313.7,2230.4 L 2294.8,2231.2 Q 2289.1,2195.9 2288.3,2148.5 Q 2283.4,2177.0 2284.4,2184.5 L 2283.4,2194.0 Q 2272.0,2204.5 2262.6,2207.3 L 2243.2,2205.4 Q 2241.3,2167.5 2243.2,2139.1 Q 2246.4,2101.1 2253.5,2063.2 Q 2257.8,2025.3 2256.9,1987.4 Z" fill="url(#jeanG)"/>
<path d="M 2266.4,1983.6 Q 2281.5,1980.8 2291.0,1989.7 Q 2297.6,2015.8 2295.2,2072.7 Q 2291.0,2106.8 2288.3,2148.5 Q 2284.4,2177.0 2284.4,2184.5 Q 2275.8,2178.9 2263.5,2162.2 Q 2275.8,2129.6 2283.4,2072.7 Q 2285.3,2025.3 2266.4,1983.6 Z" fill="#1b242c"/>
<path d="M 2256.9,2053.7 Q 2272.0,2061.3 2283.4,2053.7 Q 2272.0,2072.7 2255.0,2065.1 Z" fill="#2a353e" opacity="0.8"/>
<path d="M 2313.7,2167.5 Q 2325.1,2186.4 2330.8,2205.4 Q 2321.3,2211.1 2321.3,2205.4 Q 2323.2,2190.2 2313.7,2167.5 Z" fill="#27313a" opacity="0.8"/>
<path d="M 2302.4,1968.4 L 2311.8,1964.6 L 2319.4,1987.4 L 2308.1,2001.6 L 2301.4,1997.8 Z" fill="none" stroke="#7f919d" stroke-width="1"/>
<path d="M 2247.4,1940.0 L 2255.9,1940.0 Q 2256.9,1955.2 2254.0,1966.5 Q 2252.1,1970.3 2250.2,1968.4 Q 2248.3,1955.2 2247.4,1940.0 Z" fill="url(#skinG)"/>
<path d="M 2332.7,1940.0 L 2357.3,1940.0 Q 2366.8,1968.4 2375.4,1993.1 Q 2375.9,2002.6 2371.6,2010.1 Q 2366.8,2015.8 2361.1,2020.6 Q 2355.5,2024.4 2354.5,2019.6 Q 2351.7,2015.8 2347.9,2018.1 Q 2346.9,2015.8 2351.7,2012.0 Q 2355.5,2004.5 2355.5,1996.9 Q 2349.8,1977.9 2332.7,1940.0 Z" fill="url(#skinG)"/>
<path d="M 2243.2,2205.4 L 2262.6,2207.3 Q 2272.0,2204.5 2283.4,2194.0 L 2284.4,2184.5 Q 2288.2,2185.5 2289.1,2190.2 L 2288.7,2202.6 Q 2275.8,2211.1 2262.6,2216.0 Q 2251.2,2216.8 2245.5,2213.4 Q 2243.2,2210.1 2243.2,2205.4 Z" fill="#7b654f"/>
<path d="M 2243.2,2205.4 L 2262.6,2207.3 Q 2272.0,2204.5 2279.6,2197.8 L 2279.6,2201.6 Q 2272.0,2209.2 2262.6,2211.5 L 2244.5,2210.1 Z" fill="#2a2320"/>
<path d="M 2313.7,2230.4 Q 2323.2,2228.2 2332.7,2219.1 L 2335.5,2208.8 Q 2351.7,2208.2 2363.4,2210.1 Q 2369.7,2213.9 2369.7,2217.7 Q 2367.8,2223.4 2363.0,2225.3 Q 2355.5,2229.7 2347.9,2230.4 Z" fill="#8a745b"/>
<path d="M 2344.1,2209.2 Q 2357.3,2208.2 2363.4,2210.1 Q 2369.7,2213.9 2369.7,2217.7 Q 2367.8,2223.4 2363.0,2225.3 Q 2357.3,2220.6 2351.7,2218.7 Q 2346.0,2214.9 2344.1,2209.2 Z" fill="#6c543f"/>
<path d="M 2311.8,2230.4 L 2347.9,2230.4 L 2351.7,2228.5 L 2317.5,2228.5 Z" fill="#2a2320"/>
<!-- Aerovent logo bottom-right -->
<rect x="2856.8" y="2473.1" width="298.6" height="1.9" fill="#d2d3d4"/>
<polygon points="3164.5,2433.2 3174.2,2433.2 3198.1,2461.2 3175.2,2489.6 3164.5,2489.6 3186.2,2461.2" fill="#e02226"/>
<polygon points="3187.1,2433.2 3197.1,2433.2 3221,2461.2 3198.1,2489.6 3187.1,2489.6 3209,2461.2" fill="#000"/>

</svg>
<div class="t" style="left:2716.5px;top:187.4px;font-size:69.77px;font-weight:bold;color:#000;transform:scaleX(0.9237);transform-origin:0 0">PROPELLERS</div>
<div class="t" style="left:2208.2px;top:278.6px;font-size:57.85px;font-weight:bold;color:#000;transform:scaleX(1.0355);transform-origin:0 0">AIRFLOW/ROTATION</div>
<div class="t" style="left:2833.6px;top:278.6px;font-size:57.85px;font-weight:bold;color:#000;transform:scaleX(1.0194);transform-origin:0 0">OVERVIEW</div>
<div class="t" style="left:258.9px;top:486.4px;font-size:63.52px;font-weight:bold;color:#000;transform:scaleX(0.9558);transform-origin:0 0">FIXED</div>
<div class="t" style="left:458.7px;top:486.4px;font-size:63.52px;font-weight:bold;color:#000;transform:scaleX(0.9511);transform-origin:0 0">PITCH</div>
<div class="t" style="left:660.8px;top:486.4px;font-size:63.52px;font-weight:bold;color:#000;transform:scaleX(0.9021);transform-origin:0 0">PROPELLERS</div>
<div class="t" style="left:1063.8px;top:486.4px;font-size:63.52px;font-weight:bold;color:#000;transform:scaleX(1.1176);transform-origin:0 0">-</div>
<div class="t" style="left:1103.1px;top:486.4px;font-size:63.52px;font-weight:bold;color:#000;transform:scaleX(0.9731);transform-origin:0 0">Cast/Fabricated</div>
<div class="t" style="left:1594.6px;top:504.1px;font-size:42.59px;font-weight:bold;font-style:italic;color:#000;transform:scaleX(1.0602);transform-origin:0 0">(AIRFLOW = MP)</div>
<div class="t" style="left:469.1px;top:655.2px;font-size:50.58px;font-weight:bold;color:#000;transform:scaleX(1.0012);transform-origin:0 0">Airflow</div>
<div class="t" style="left:655.8px;top:655.2px;font-size:50.58px;font-weight:bold;color:#000;transform:scaleX(1.0023);transform-origin:0 0">Direction</div>
<div class="t" style="left:468.4px;top:747.1px;font-size:50.58px;font-weight:bold;color:#000;transform:scaleX(0.9601);transform-origin:0 0">Leading</div>
<div class="t" style="left:666.3px;top:747.1px;font-size:50.58px;font-weight:bold;color:#000;transform:scaleX(0.9176);transform-origin:0 0">Edge</div>
<div class="t" style="left:791.5px;top:747.1px;font-size:50.58px;font-weight:bold;color:#000;transform:scaleX(1.0391);transform-origin:0 0">of</div>
<div class="t" style="left:854.9px;top:747.1px;font-size:50.58px;font-weight:bold;color:#000;transform:scaleX(0.9729);transform-origin:0 0">Blade</div>
<div class="t" style="left:306.9px;top:836.8px;font-size:43.17px;color:#000;transform:scaleX(1.0836);transform-origin:0 0">- Air is drawn through the propeller from the leading</div>
<div class="t" style="left:339.8px;top:896.2px;font-size:43.17px;color:#000;transform:scaleX(1.0558);transform-origin:0 0">edge of the blades.</div>
<div class="t" style="left:307.0px;top:956.6px;font-size:43.17px;color:#000;transform:scaleX(1.0459);transform-origin:0 0">- The concave side of the blade cups the air and</div>
<div class="t" style="left:338.7px;top:1016.1px;font-size:43.17px;color:#000;transform:scaleX(1.0732);transform-origin:0 0">pushes it away from the prop</div>
<div class="t" style="left:1199.3px;top:1579.2px;font-size:44.91px;font-weight:bold;color:#a7a9ac;transform:scaleX(0.8966);transform-origin:0 0">RH</div>
<div class="t" style="left:1270.5px;top:1579.2px;font-size:44.91px;font-weight:bold;color:#a7a9ac;transform:scaleX(0.9701);transform-origin:0 0">Rotation</div>
<div class="t" style="left:149.0px;top:2134.2px;font-size:40.70px;color:#ed1c24;transform:scaleX(0.9711);transform-origin:0 0">NOTE 1:</div>
<div class="t" style="left:310.8px;top:2134.2px;font-size:40.70px;color:#ed1c24;transform:scaleX(1.0594);transform-origin:0 0">Airflow direction and rotation must be correct in order for</div>
<div class="t" style="left:325.3px;top:2189.0px;font-size:40.70px;color:#ed1c24;transform:scaleX(1.0430);transform-origin:0 0">the fan to operate at 100% performance.</div>
<div class="t" style="left:149.0px;top:2298.4px;font-size:40.70px;color:#ed1c24;transform:scaleX(0.9711);transform-origin:0 0">NOTE 2:</div>
<div class="t" style="left:307.8px;top:2298.4px;font-size:40.70px;font-weight:bold;color:#ed1c24;transform:scaleX(1.0001);transform-origin:0 0">If the propeller rotates in the wrong direction,</div>
<div class="t" style="left:1195.4px;top:2298.4px;font-size:40.70px;font-weight:bold;color:#ed1c24;transform:scaleX(0.9830);transform-origin:0 0">you will not</div>
<div class="t" style="left:324.3px;top:2352.6px;font-size:40.70px;font-weight:bold;color:#ed1c24;transform:scaleX(0.9968);transform-origin:0 0">get any airflow at all in the proper direction.</div>
<div class="t" style="left:2248.4px;top:486.3px;font-size:40.99px;font-weight:bold;color:#fff;transform:scaleX(1.0051);transform-origin:0 0">AIRFLOW = MP</div>
<div class="t" style="left:2558.0px;top:489.4px;font-size:37.35px;font-weight:bold;color:#fff;transform:scaleX(0.9933);transform-origin:0 0">(AIR OVER MOTOR THEN PROP)</div>
<div class="t" style="left:2455.6px;top:577.8px;font-size:46.51px;font-weight:bold;color:#000;transform:scaleX(1.0065);transform-origin:0 0">AIRFLOW</div>
<div class="t" style="left:2691.4px;top:577.8px;font-size:46.51px;font-weight:bold;color:#000;transform:scaleX(1.0444);transform-origin:0 0">DIRECTION</div>
<div class="t" style="left:2218.0px;top:646.8px;font-size:42.30px;color:#000;transform:scaleX(1.1008);transform-origin:0 0">Rotation is determined by viewing the propeller</div>
<div class="t" style="left:2355.1px;top:706.0px;font-size:42.30px;color:#000;transform:scaleX(1.0907);transform-origin:0 0">from the discharge side of the fan.</div>
<div class="t" style="left:2545.6px;top:879.4px;font-size:42.15px;font-weight:bold;color:#929497;transform:scaleX(0.9413);transform-origin:0 0">Intake Side</div>
<div class="t" style="left:2801.6px;top:1035.2px;font-size:41.28px;font-weight:bold;color:#000;transform:scaleX(0.9829);transform-origin:0 0">Airflow Direction</div>
<div class="t" style="left:2759.7px;top:1091.9px;font-size:39.10px;color:#000;transform:scaleX(1.0388);transform-origin:0 0">air passes over</div>
<div class="t" style="left:3043.1px;top:1091.9px;font-size:39.10px;font-weight:bold;color:#000;transform:scaleX(1.4185);transform-origin:0 0">M</div>
<div class="t" style="left:3086.4px;top:1091.9px;font-size:39.10px;color:#000;transform:scaleX(1.1708);transform-origin:0 0">otor</div>
<div class="t" style="left:2792.4px;top:1146.6px;font-size:39.10px;color:#000;transform:scaleX(1.1181);transform-origin:0 0">then through</div>
<div class="t" style="left:3045.6px;top:1146.6px;font-size:39.10px;font-weight:bold;color:#000;transform:scaleX(1.0136);transform-origin:0 0">P</div>
<div class="t" style="left:3071.9px;top:1146.6px;font-size:39.10px;color:#000;transform:scaleX(1.1269);transform-origin:0 0">rop</div>
<div class="t" style="left:2825.2px;top:1201.2px;font-size:39.53px;font-weight:bold;color:#000;transform:scaleX(1.0421);transform-origin:0 0">(Airflow = MP)</div>
<div class="t" style="left:2773.9px;top:1267.1px;font-size:36.92px;font-style:italic;color:#000;transform:scaleX(1.0110);transform-origin:0 0">aka: Hub on Discharge</div>
<div class="t" style="left:2569.0px;top:1943.7px;font-size:25.73px;font-weight:bold;color:#000;transform:scaleX(0.9118);transform-origin:0 0">RH</div>
<div class="t" style="left:2610.5px;top:1943.7px;font-size:25.73px;font-weight:bold;color:#000;transform:scaleX(0.9931);transform-origin:0 0">Rotation</div>
<div class="t" style="left:3078.6px;top:1578.3px;font-size:37.06px;font-weight:bold;color:#a7a9ac;transform:rotate(-15.60deg) scaleX(1.0154);transform-origin:2.03px 31.36px">Intake</div>
<div class="t" style="left:2373.5px;top:1891.0px;font-size:37.50px;font-weight:bold;color:#a7a9ac;transform:rotate(-21.00deg) scaleX(0.9236);transform-origin:1.85px 31.73px">Discharge</div>
<div class="t" style="left:399.6px;top:242.0px;font-size:43.31px;font-weight:bold;color:#ed1c24;transform:scaleX(1.2346);transform-origin:0 0">B</div>
<div class="t" style="left:435.1px;top:249.0px;font-size:35.03px;font-weight:bold;color:#ed1c24;transform:scaleX(1.7455);transform-origin:0 0">Y</div>
<div class="t" style="left:500.2px;top:242.0px;font-size:43.31px;font-weight:bold;color:#ed1c24;transform:scaleX(1.3897);transform-origin:0 0">A</div>
<div class="t" style="left:544.9px;top:249.0px;font-size:35.03px;font-weight:bold;color:#ed1c24;transform:scaleX(1.3450);transform-origin:0 0">E</div>
<div class="t" style="left:579.7px;top:249.0px;font-size:35.03px;font-weight:bold;color:#ed1c24;transform:scaleX(1.3773);transform-origin:0 0">R</div>
<div class="t" style="left:619.3px;top:249.0px;font-size:35.03px;font-weight:bold;color:#ed1c24;transform:scaleX(1.5000);transform-origin:0 0">O</div>
<div class="t" style="left:661.1px;top:249.0px;font-size:35.03px;font-weight:bold;color:#ed1c24;transform:scaleX(1.6043);transform-origin:0 0">V</div>
<div class="t" style="left:699.8px;top:249.0px;font-size:35.03px;font-weight:bold;color:#ed1c24;transform:scaleX(1.2750);transform-origin:0 0">E</div>
<div class="t" style="left:732.8px;top:249.0px;font-size:35.03px;font-weight:bold;color:#ed1c24;transform:scaleX(1.4857);transform-origin:0 0">N</div>
<div class="t" style="left:770.4px;top:249.0px;font-size:35.03px;font-weight:bold;color:#ed1c24;transform:scaleX(1.5810);transform-origin:0 0">T</div>
<div class="t" style="left:397.1px;top:298.3px;font-size:32.70px;color:#a7a9ac;transform:scaleX(0.9833);transform-origin:0 0">©</div>
<div class="t" style="left:425.3px;top:306.1px;font-size:23.55px;font-weight:bold;color:#a7a9ac;transform:scaleX(1.6000);transform-origin:0 0">2</div>
<div class="t" style="left:449.1px;top:306.1px;font-size:23.55px;font-weight:bold;color:#a7a9ac;transform:scaleX(1.9364);transform-origin:0 0">0</div>
<div class="t" style="left:483.7px;top:306.1px;font-size:23.55px;font-weight:bold;color:#a7a9ac;transform:scaleX(1.4250);transform-origin:0 0">I</div>
<div class="t" style="left:501.3px;top:306.1px;font-size:23.55px;font-weight:bold;color:#a7a9ac;transform:scaleX(1.6583);transform-origin:0 0">8</div>
<div class="t" style="left:2859.2px;top:2428.1px;font-size:44.91px;-webkit-text-stroke:1.00px #111;color:#111;transform:scaleX(1.3733);transform-origin:0 0">A</div>
<div class="t" style="left:2903.9px;top:2435.2px;font-size:36.48px;-webkit-text-stroke:1.00px #111;color:#111;transform:scaleX(1.1909);transform-origin:0 0">E</div>
<div class="t" style="left:2936.3px;top:2435.2px;font-size:36.48px;-webkit-text-stroke:1.00px #111;color:#111;transform:scaleX(1.3130);transform-origin:0 0">R</div>
<div class="t" style="left:2972.9px;top:2435.2px;font-size:36.48px;-webkit-text-stroke:1.00px #111;color:#111;transform:scaleX(1.3038);transform-origin:0 0">O</div>
<div class="t" style="left:3008.5px;top:2435.2px;font-size:36.48px;-webkit-text-stroke:1.00px #111;color:#111;transform:scaleX(1.4520);transform-origin:0 0">V</div>
<div class="t" style="left:3047.2px;top:2435.2px;font-size:36.48px;-webkit-text-stroke:1.00px #111;color:#111;transform:scaleX(1.2727);transform-origin:0 0">E</div>
<div class="t" style="left:3081.6px;top:2435.2px;font-size:36.48px;-webkit-text-stroke:1.00px #111;color:#111;transform:scaleX(1.4591);transform-origin:0 0">N</div>
<div class="t" style="left:3120.2px;top:2435.2px;font-size:36.48px;-webkit-text-stroke:1.00px #111;color:#111;transform:scaleX(1.4182);transform-origin:0 0">T</div>
<div class="t" style="left:2857.7px;top:2481.4px;font-size:11.34px;color:#e02226;transform:scaleX(1.4636);transform-origin:0 0">INDUSTRIAL</div>
<div class="t" style="left:2962.7px;top:2481.4px;font-size:11.34px;color:#e02226;transform:scaleX(1.4425);transform-origin:0 0">VENTILATION</div>
<div class="t" style="left:3076.7px;top:2481.4px;font-size:11.34px;color:#e02226;transform:scaleX(1.4340);transform-origin:0 0">SYSTEMS</div>
</body></html>
